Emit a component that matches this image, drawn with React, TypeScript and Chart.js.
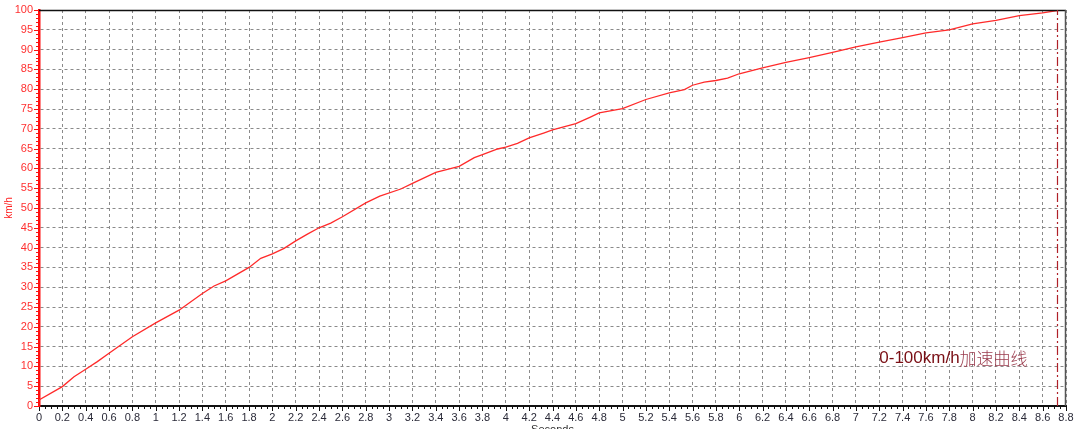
import React, { useEffect, useRef } from "react";
import { Chart, registerables } from "chart.js";

Chart.register(...registerables);

const times = [0, 0.2, 0.3, 0.4, 0.5, 0.6, 0.8, 1.0, 1.2, 1.4, 1.5, 1.6, 1.8, 1.9, 2.0, 2.1, 2.2, 2.3, 2.4, 2.5, 2.6, 2.8, 2.92, 3.1, 3.2, 3.4, 3.6, 3.73, 3.8, 3.93, 4.0, 4.1, 4.2, 4.33, 4.4, 4.6, 4.72, 4.8, 5.0, 5.2, 5.4, 5.53, 5.6, 5.7, 5.8, 5.9, 6.0, 6.2, 6.4, 6.6, 6.8, 7.0, 7.2, 7.4, 7.6, 7.8, 8.0, 8.2, 8.4, 8.6, 8.75];
const speeds = [1.5, 4.9, 7.4, 9.3, 11.2, 13.3, 17.5, 21.0, 24.2, 28.4, 30.3, 31.6, 35.0, 37.3, 38.4, 39.8, 41.7, 43.4, 45.0, 46.2, 47.8, 51.3, 53.0, 54.8, 56.2, 59.0, 60.5, 62.7, 63.5, 64.9, 65.4, 66.3, 67.7, 69.0, 69.7, 71.3, 72.9, 74.0, 75.1, 77.4, 79.1, 79.9, 81.0, 81.8, 82.2, 82.8, 83.9, 85.4, 86.8, 88.0, 89.3, 90.7, 91.9, 93.0, 94.2, 95.0, 96.5, 97.4, 98.6, 99.3, 100];

const xMin = 0;
const xMax = 8.8;
const xStep = 0.2;
const yMin = 0;
const yMax = 100;
const yStep = 5;
const finishTime = 8.72;
const xTitle = "Seconds";
const yTitle = "km/h";
const notePart1 = "0-100km/h";
const notePart2 = "加速曲线";
const noteX = 7.2;
const noteY = 12;

const fmt = (v: number) => String(parseFloat(Number(v).toFixed(2)));

const decorPlugin = {
  id: "decor",
  afterDraw(chart: any) {
    const { ctx, chartArea } = chart;
    const xs = chart.scales.x;
    const ys = chart.scales.y;
    const { left, right, top, bottom } = chartArea;
    ctx.save();
    // top border
    ctx.strokeStyle = "#111";
    ctx.lineWidth = 1.5;
    ctx.beginPath();
    ctx.moveTo(left, top + 0.5);
    ctx.lineTo(right, top + 0.5);
    ctx.stroke();
    // right border
    ctx.strokeStyle = "#555";
    ctx.lineWidth = 1.5;
    ctx.beginPath();
    ctx.moveTo(right - 0.5, top);
    ctx.lineTo(right - 0.5, bottom);
    ctx.stroke();

    // minor & major ticks on y axis
    ctx.strokeStyle = "#ff1010";
    ctx.lineWidth = 1;
    for (let v = yMin; v <= yMax + 1e-6; v += 1) {
      const py = Math.round(ys.getPixelForValue(v)) + 0.5;
      const len = v % yStep === 0 ? 4 : 2;
      ctx.beginPath();
      ctx.moveTo(left - 1, py);
      ctx.lineTo(left - 1 - len, py);
      ctx.stroke();
    }
    // minor & major ticks on x axis
    ctx.strokeStyle = "#111";
    for (let i = 0; i <= Math.round((xMax - xMin) / 0.05); i++) {
      const v = xMin + i * 0.05;
      const px = Math.round(xs.getPixelForValue(v)) + 0.5;
      const len = i % 4 === 0 ? 4 : 2;
      ctx.beginPath();
      ctx.moveTo(px, bottom + 1);
      ctx.lineTo(px, bottom + 1 + len);
      ctx.stroke();
    }

    // finish line (dash-dot)
    const fx = Math.round(xs.getPixelForValue(finishTime)) + 0.5;
    ctx.strokeStyle = "#b02028";
    ctx.lineWidth = 1.2;
    ctx.setLineDash([9, 3, 2, 3]);
    ctx.beginPath();
    ctx.moveTo(fx, bottom);
    ctx.lineTo(fx, top);
    ctx.stroke();
    ctx.setLineDash([]);

    // annotation
    const nx = xs.getPixelForValue(noteX);
    const ny = ys.getPixelForValue(noteY);
    ctx.textBaseline = "middle";
    ctx.textAlign = "left";
    ctx.font = "17px 'Liberation Sans', Arial, sans-serif";
    ctx.fillStyle = "#7a0e14";
    ctx.fillText(notePart1, nx, ny);
    const w1 = ctx.measureText(notePart1).width;
    ctx.font = "300 17px 'Noto Sans CJK SC', sans-serif";
    ctx.fillStyle = "#9a3a4c";
    ctx.fillText(notePart2, nx + w1, ny);

    // axis titles
    ctx.font = "10px 'Liberation Sans', Arial, sans-serif";
    ctx.fillStyle = "#ff2020";
    ctx.save();
    ctx.translate(9, (top + bottom) / 2);
    ctx.rotate(-Math.PI / 2);
    ctx.textAlign = "center";
    ctx.textBaseline = "middle";
    ctx.fillText(yTitle, 0, 0);
    ctx.restore();

    ctx.font = "11px 'Liberation Sans', Arial, sans-serif";
    ctx.fillStyle = "#333";
    ctx.textAlign = "center";
    ctx.textBaseline = "top";
    ctx.fillText(xTitle, (left + right) / 2, 424);
    ctx.restore();
  },
};

export default function App() {
  const ref = useRef<HTMLCanvasElement | null>(null);
  useEffect(() => {
    document.body.style.margin = "0";
    const canvas = ref.current;
    if (!canvas) return;
    const chart = new Chart(canvas, {
      type: "line",
      data: {
        datasets: [
          {
            data: times.map((t, i) => ({ x: t, y: speeds[i] })),
            borderColor: "#ff2a2a",
            borderWidth: 1.3,
            pointRadius: 0,
            tension: 0,
            fill: false,
          },
        ],
      },
      options: {
        animation: false,
        responsive: false,
        layout: { padding: { top: 10, right: 14, left: 0, bottom: 0 } },
        plugins: { legend: { display: false }, tooltip: { enabled: false } },
        scales: {
          x: {
            type: "linear",
            min: xMin,
            max: xMax,
            afterBuildTicks: (scale: any) => {
              const arr = [];
              for (let i = 0; i <= Math.round((xMax - xMin) / xStep); i++) arr.push({ value: +(xMin + i * xStep).toFixed(2) });
              scale.ticks = arr;
            },
            afterFit: (scale: any) => {
              scale.height = 23;
              scale.paddingLeft = 0;
              scale.paddingRight = 0;
            },
            ticks: {
              autoSkip: false,
              maxRotation: 0,
              padding: 5,
              color: "#2a2a38",
              font: { family: "'Liberation Sans', Arial, sans-serif", size: 11 },
              callback: (v: any) => fmt(v),
            },
            grid: { color: "#8a8a8a", lineWidth: 1, drawTicks: false },
            border: { color: "#111", width: 2, dash: [3, 3] },
          },
          y: {
            type: "linear",
            min: yMin,
            max: yMax,
            afterBuildTicks: (scale: any) => {
              const arr = [];
              for (let v = yMin; v <= yMax; v += yStep) arr.push({ value: v });
              scale.ticks = arr;
            },
            afterFit: (scale: any) => {
              scale.width = 39;
              scale.paddingTop = 0;
              scale.paddingBottom = 0;
            },
            ticks: {
              autoSkip: false,
              padding: 6,
              color: "#ff3030",
              font: { family: "'Liberation Sans', Arial, sans-serif", size: 11 },
              callback: (v: any) => fmt(v),
            },
            grid: { color: "#8a8a8a", lineWidth: 1, drawTicks: false },
            border: { color: "#ff1010", width: 2.5, dash: [3, 3] },
          },
        },
      },
      plugins: [decorPlugin],
    });
    return () => chart.destroy();
  }, []);
  return (
    <div style={{ position: "absolute", left: 0, top: 0, width: 1080, height: 429, background: "#fff" }}>
      <canvas ref={ref} width={1080} height={429} />
    </div>
  );
}
